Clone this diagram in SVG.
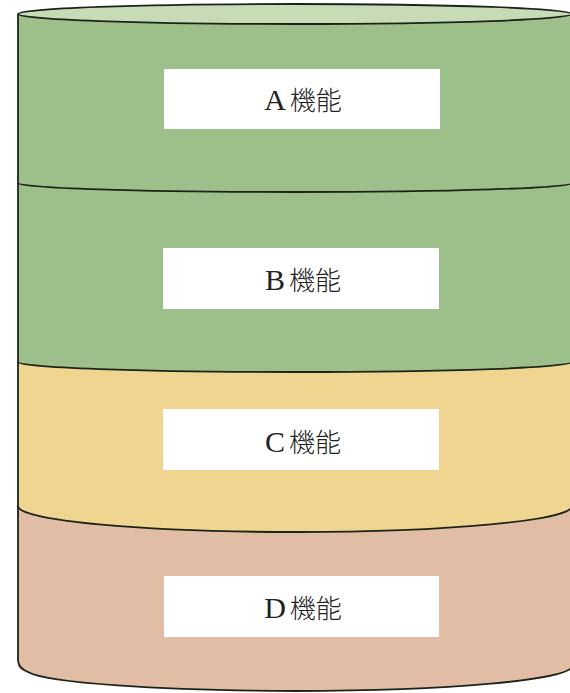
<svg xmlns="http://www.w3.org/2000/svg" width="570" height="693" viewBox="0 0 570 693">
<style>
.band{stroke:none}
.line{fill:none;stroke:#1c2419;stroke-width:1.8}
.box{fill:#ffffff}
.lbl{font-family:"Liberation Serif","Noto Sans CJK JP",serif;font-size:30px;fill:#222;text-anchor:middle}
.kj{font-family:"Noto Sans CJK JP","Liberation Serif",sans-serif;font-weight:300;font-size:26px}
</style>
<rect width="570" height="693" fill="#ffffff"/>
<g id="cylinder">
<path class="band" fill="#e2bda5" d="M18,506 A277,26 0 0 0 572,506 L572,666 A277,25 0 0 1 295,691 A277,25 0 0 1 18,666 Z"/>
<path class="band" fill="#efd58f" d="M18,362 A277,10 0 0 0 572,362 L572,506 A277,26 0 0 1 18,506 Z"/>
<path class="band" fill="#9dc08b" d="M18,14 L572,14 L572,362 A277,10 0 0 1 18,362 Z"/>
<ellipse cx="295" cy="14" rx="277" ry="10" fill="#c7dcb6"/>
</g>
<g id="connectors">
<path class="line" d="M18,183 A277,9 0 0 0 572,183"/>
<path class="line" d="M18,362 A277,10 0 0 0 572,362"/>
<path class="line" d="M18,506 A277,26 0 0 0 572,506"/>
<path class="line" stroke-width="2.2" d="M18,14 L18,660 Q18,668 28,672 A277,22 0 0 0 295,691 A277,25 0 0 0 572,666"/>
<ellipse class="line" stroke-width="2.6" cx="295" cy="14" rx="277" ry="10"/>
</g>
<g id="nodeA">
<rect class="box" x="164" y="69" width="276" height="60"/>
<text class="lbl" x="303" y="110">A<tspan class="kj" dx="4">機能</tspan></text>
</g>
<g id="nodeB">
<rect class="box" x="163" y="248" width="276" height="61"/>
<text class="lbl" x="303" y="290">B<tspan class="kj" dx="4">機能</tspan></text>
</g>
<g id="nodeC">
<rect class="box" x="163" y="409" width="276" height="61"/>
<text class="lbl" x="303" y="452">C<tspan class="kj" dx="4">機能</tspan></text>
</g>
<g id="nodeD">
<rect class="box" x="164" y="576" width="275" height="61"/>
<text class="lbl" x="303" y="618">D<tspan class="kj" dx="4">機能</tspan></text>
</g>
</svg>
